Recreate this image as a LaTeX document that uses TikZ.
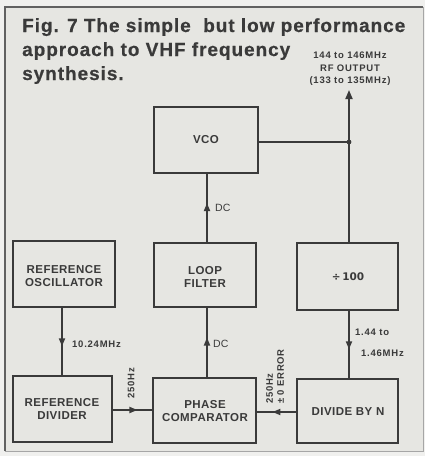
\documentclass[tikz,border=0pt]{standalone}
\usepackage{fontspec}
\setmainfont{Liberation Sans}
\usetikzlibrary{arrows.meta,decorations.markings}
\definecolor{bg}{HTML}{E6E6E2}
\definecolor{ink}{HTML}{3A3A3A}
\newfontfamily\titlefont[LetterSpace=5,FakeBold=0.6]{Liberation Sans Bold}
\newfontfamily\boxfont[LetterSpace=4]{Liberation Sans Bold}
\newfontfamily\lblfont[LetterSpace=8]{Liberation Sans Bold}
\tikzset{
  blk/.style={draw=ink, line width=1.2pt, fill=bg, inner sep=0pt},
  blktext/.style={font=\boxfont\fontsize{11.5}{12.5}\selectfont, text=ink, align=center},
  lbl/.style={font=\lblfont\fontsize{9.5}{11}\selectfont, text=ink, inner sep=0pt},
  ttl/.style={anchor=base west, inner sep=0pt, font=\titlefont\fontsize{19}{20}\selectfont, text=ink},
  conn/.style={draw=ink, line width=1.8pt},
  midarrow/.style={postaction={decorate}, decoration={markings, mark=at position #1 with {\arrow{Triangle[length=8pt,width=6pt]}}}},
}
\begin{document}
\begin{tikzpicture}[x=1pt,y=-1pt]
\useasboundingbox (0,0) rectangle (425,456);
\fill[bg!60!white] (0,0) rectangle (425,456);
\fill[bg] (5,7) rectangle (423,451);
\draw[ink!80, line width=1.6pt] (5,451) -- (5,7) -- (423,7);
\draw[ink!45, line width=1pt] (423,7) -- (423,451) -- (5,451);

% title
\node[ttl] (t1) at (22,32) {Fig. 7 The simple\ \ but low performance};
\node[ttl] (t2) at (22,56) {approach to VHF frequency};
\node[ttl] (t3) at (22,80) {synthesis.};

% RF output label
\node[lbl, anchor=base] (o1) at (350,58) {144 to 146MHz};
\node[lbl, anchor=base] (o2) at (350,71) {RF OUTPUT};
\node[lbl, anchor=base] (o3) at (350,83) {(133 to 135MHz)};

% blocks
\path[blk] (154,107) rectangle (258,173);
\node[blktext] (vco) at (206,140) {VCO};
\path[blk] (154,243) rectangle (256,307);
\node[blktext] (lf) at (205,277) {LOOP\\FILTER};
\path[blk] (153,378) rectangle (256,443);
\node[blktext] (pc) at (205,411) {PHASE\\COMPARATOR};
\path[blk] (13,241) rectangle (115,307);
\node[blktext] (ro) at (64,276) {REFERENCE\\OSCILLATOR};
\path[blk] (13,376) rectangle (112,442);
\node[blktext] (rd) at (62,409) {REFERENCE\\DIVIDER};
\path[blk] (297,243) rectangle (398,310);
\node[blktext] (d100) at (348,277) {\fontspec{DejaVu Sans Bold}\fontsize{10.5}{11}\selectfont ÷\,100};
\path[blk] (297,379) rectangle (398,443);
\node[blktext] (dn) at (348,412) {DIVIDE BY N};

% named connection points
\coordinate (roB) at (62,307);
\coordinate (rdT) at (62,376);
\coordinate (rdR) at (112,410);
\coordinate (pcL) at (153,410);
\coordinate (pcT) at (207,378);
\coordinate (lfB) at (207,307);
\coordinate (lfT) at (207,243);
\coordinate (vcoB) at (207,173);
\coordinate (vcoR) at (258,142);
\coordinate (jn) at (349,142);
\coordinate (outT) at (349,90);
\coordinate (d100T) at (349,243);
\coordinate (d100B) at (349,310);
\coordinate (dnT) at (349,379);
\coordinate (dnL) at (297,412);
\coordinate (pcR) at (256,412);

% connectors
\draw[conn, midarrow=0.57] (roB) -- (rdT);
\draw[conn, midarrow=0.62] (rdR) -- (pcL);
\draw[conn, midarrow=0.57] (pcT) -- (lfB);
\draw[conn, midarrow=0.57] (lfT) -- (vcoB);
\draw[conn, midarrow=0.57] (d100B) -- (dnT);
\draw[conn, midarrow=0.6] (dnL) -- (pcR);
\draw[conn] (vcoR) -- (jn);
\draw[conn, -{Triangle[length=9pt,width=7pt]}] (d100T) -- (outT);
\fill[ink] (jn) circle (2.4pt);

% connector labels
\node[lbl, anchor=west] (l1) at (72,344) {10.24MHz};
\node[lbl, anchor=center, rotate=90] (l2) at (131,383) {250Hz};
\node[lbl, anchor=west, font=\fontsize{10.5}{12}\selectfont] (l3) at (213,344) {DC};
\node[lbl, anchor=west, font=\fontsize{10.5}{12}\selectfont] (l4) at (215,208) {DC};
\node[lbl, anchor=west] (l5) at (355,332) {1.44 to};
\node[lbl, anchor=west] (l6) at (361,353) {1.46MHz};
\node[lbl, anchor=west, rotate=90, align=left] (l7) at (275,404) {250Hz\\± 0 ERROR};
\end{tikzpicture}
\end{document}
